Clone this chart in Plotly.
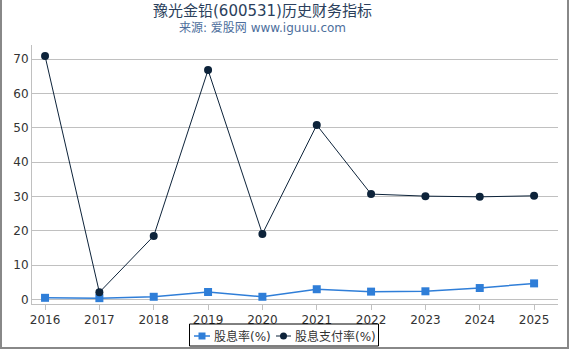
import plotly.graph_objects as go

years = ["2016", "2017", "2018", "2019", "2020", "2021", "2022", "2023", "2024", "2025"]
dividend_yield = [0.5, 0.4, 0.8, 2.2, 0.8, 3.0, 2.3, 2.4, 3.35, 4.7]
payout_ratio = [70.9, 2.1, 18.5, 66.8, 19.1, 50.8, 30.7, 30.1, 29.9, 30.2]
series_names = ["股息率(%)", "股息支付率(%)"]
x_vals = [int(y) for y in years]

W, H = 570, 350
ml, mr, mt, mb = 32, 12, 45, 46
pw, ph = W - ml - mr, H - mt - mb
C_YIELD = "#2f7ed8"
C_PAYOUT = "#0d233a"


def px_to_paper_x(px):
    return (px - ml) / pw


def px_to_paper_y(py):
    return (H - mb - py) / ph


fig = go.Figure()
fig.add_trace(go.Scatter(
    x=x_vals, y=dividend_yield, name=series_names[0], mode="lines+markers",
    line=dict(color=C_YIELD, width=1.5),
    marker=dict(symbol="square", size=8, color=C_YIELD),
    showlegend=False,
))
fig.add_trace(go.Scatter(
    x=x_vals, y=payout_ratio, name=series_names[1], mode="lines+markers",
    line=dict(color=C_PAYOUT, width=1),
    marker=dict(symbol="circle", size=8, color=C_PAYOUT),
    showlegend=False,
))

fig.update_layout(
    width=W, height=H,
    margin=dict(l=ml, r=mr, t=mt, b=mb, autoexpand=False),
    paper_bgcolor="white", plot_bgcolor="white",
    font=dict(family="DejaVu Sans, sans-serif", size=12, color="#333333"),
    showlegend=False,
    xaxis=dict(range=[2015.76, 2025.44], tickmode="array", tickvals=x_vals, ticktext=years,
               showgrid=False, showline=True, linecolor="#c0c0c0", linewidth=1,
               ticks="outside", ticklen=5, tickcolor="#c0c0c0", zeroline=False,
               tickfont=dict(size=12, color="#333333"), automargin=False),
    yaxis=dict(range=[-1.3, 74.1], tickvals=[0, 10, 20, 30, 40, 50, 60, 70],
               showgrid=True, gridcolor="#c0c0c0", gridwidth=1, zeroline=False,
               showline=True, linecolor="#c0c0c0", linewidth=1,
               tickfont=dict(size=12, color="#333333"), ticks="", automargin=False),
)

fig.add_annotation(text="豫光金铅(600531)历史财务指标", xref="paper", yref="paper",
                   x=px_to_paper_x(262), y=px_to_paper_y(11), showarrow=False,
                   font=dict(size=15, color="#2b3f5c", family="DejaVu Sans, Noto Sans CJK SC"),
                   xanchor="center", yanchor="middle")
fig.add_annotation(text="来源: 爱股网 www.iguuu.com", xref="paper", yref="paper",
                   x=px_to_paper_x(262), y=px_to_paper_y(28), showarrow=False,
                   font=dict(size=12, color="#4d6e9c", family="DejaVu Sans, Noto Sans CJK SC"),
                   xanchor="center", yanchor="middle")

# outer gray frame (left, right, bottom)
fig.add_shape(type="rect", xref="paper", yref="paper",
              x0=px_to_paper_x(1), x1=px_to_paper_x(568),
              y0=px_to_paper_y(348), y1=px_to_paper_y(-5),
              line=dict(color="#888888", width=2), layer="below")

# custom legend
fig.add_shape(type="rect", xref="paper", yref="paper",
              x0=px_to_paper_x(189.5), x1=px_to_paper_x(378.5),
              y0=px_to_paper_y(346), y1=px_to_paper_y(324),
              line=dict(color="#000000", width=1), fillcolor="white")
ly = px_to_paper_y(336)
legend_items = [
    (series_names[0], C_YIELD, "square", 194, 210, 212, 1.5),
    (series_names[1], C_PAYOUT, "circle", 276, 291, 293, 1),
]
for name, color, sym, x0, x1, tx, lw in legend_items:
    fig.add_shape(type="line", xref="paper", yref="paper",
                  x0=px_to_paper_x(x0), x1=px_to_paper_x(x1), y0=ly, y1=ly,
                  line=dict(color=color, width=lw))
    cx = (x0 + x1) / 2
    fig.add_shape(type="rect" if sym == "square" else "circle", xref="paper", yref="paper",
                  x0=px_to_paper_x(cx - 3.5), x1=px_to_paper_x(cx + 3.5),
                  y0=px_to_paper_y(339.5), y1=px_to_paper_y(332.5),
                  line=dict(color=color, width=0), fillcolor=color)
    fig.add_annotation(text=name, xref="paper", yref="paper",
                       x=px_to_paper_x(tx), y=ly, showarrow=False,
                       font=dict(size=12, color="#333333", family="DejaVu Sans, Noto Sans CJK SC"),
                       xanchor="left", yanchor="middle")

fig.write_html("out.html")
